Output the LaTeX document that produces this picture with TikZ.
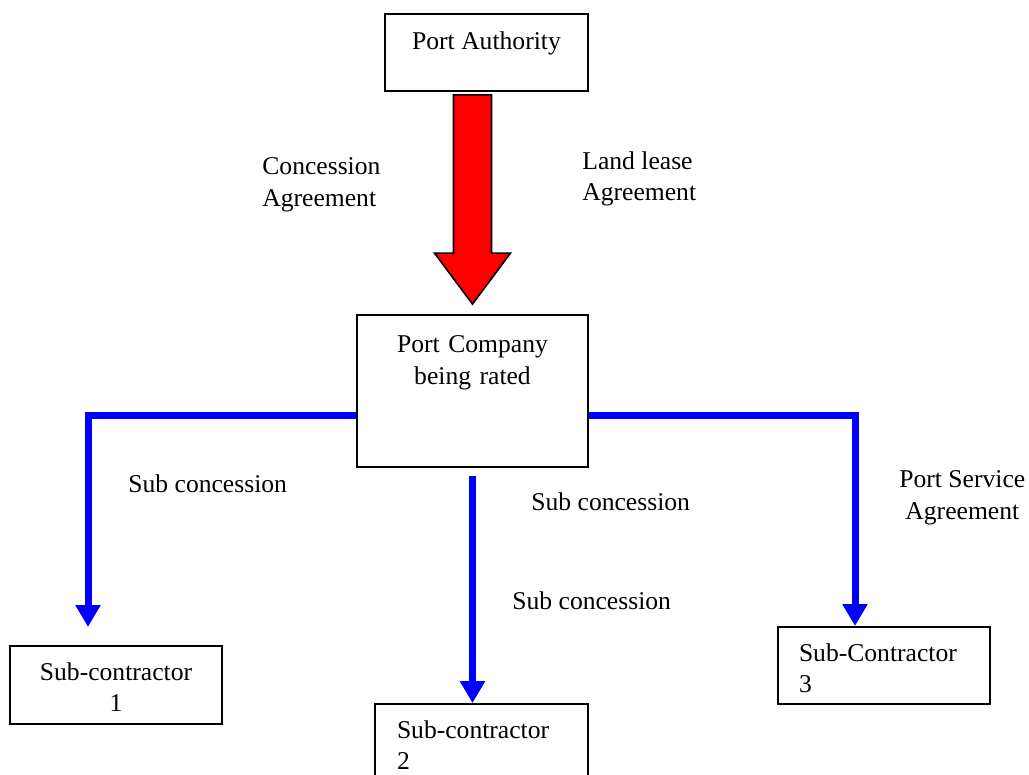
\documentclass[tikz,border=0pt]{standalone}
\usepackage{fontspec}
\setmainfont{Liberation Serif}
\usetikzlibrary{arrows.meta,calc,positioning}
\tikzset{sub/.style={draw=blue, line width=3.5pt, -{Triangle[width=12pt,length=11pt]}},
  box/.style={draw, line width=0.9pt, inner sep=0pt, text height=18pt},
  lbl/.style={inner sep=0pt, align=left, anchor=west},
  bigarrow/.style={fill=red, draw=black, line width=0.8pt}}

\begin{document}
\begin{tikzpicture}[x=0.5pt, y=-0.5pt, font=\fontsize{12.8}{15.8}\selectfont]
  \useasboundingbox (0,0) rectangle (1029,775);
  % boxes
  \node[box, minimum width=101.5pt, minimum height=38.5pt, text depth=20.5pt] (pa) at (486.5,52.5) {Port Authority};
  \node[box, align=center, text width=115.5pt, minimum height=76pt, text height=19pt, text depth=57pt] (pc) at (472.5,391) {Port Company\\being rated};
  \node[box, align=center, text width=106pt, minimum height=39pt, text height=17pt, text depth=22pt] (s1) at (116,685) {Sub-contractor\\1};
  \node[box, align=left, inner xsep=11pt, text width=84.5pt, minimum height=39pt, text height=17pt, text depth=22pt] (s2) at (481.5,743) {Sub-contractor\\2};
  \node[box, align=left, inner xsep=10.5pt, text width=85pt, minimum height=38.5pt, text height=17pt, text depth=21.5pt] (s3) at (884,665.5) {Sub-Contractor\\3};
  % big red arrow
  \coordinate (rt) at ($(pa.south -| pc.north)+(0,3)$);
  \coordinate (rb) at ($(pc.north)+(0,-10)$);
  \filldraw[bigarrow] ($(rt)+(-19,0)$) -- ($(rt)+(19,0)$) -- ($(rb)+(19,-51)$) -- ($(rb)+(38,-51)$)
    -- (rb) -- ($(rb)+(-38,-51)$) -- ($(rb)+(-19,-51)$) -- cycle;
  \node[lbl] (conc) at (262,185) {Concession\\Agreement};
  \node[lbl] (land) at (582,179) {Land lease\\Agreement};
  % sub concessions
  \coordinate (t1) at (88,627);
  \coordinate (t3) at (855,626);
  \draw[sub] ($(pc.west)+(0,25)$) -| (t1);
  \draw[sub] ($(pc.east)+(0,25)$) -| (t3);
  \draw[sub] ($(pc.south)+(0,8)$) -- (s2.north -| pc.south);
  \node[lbl] (sc1) at (128,484) {Sub concession};
  \node[lbl] (sc2) at (531,502) {Sub concession};
  \node[lbl] (sc3) at (512,601) {Sub concession};
  \node[lbl, align=center] (psa) at (899,498) {Port Service\\Agreement};
\end{tikzpicture}
\end{document}
